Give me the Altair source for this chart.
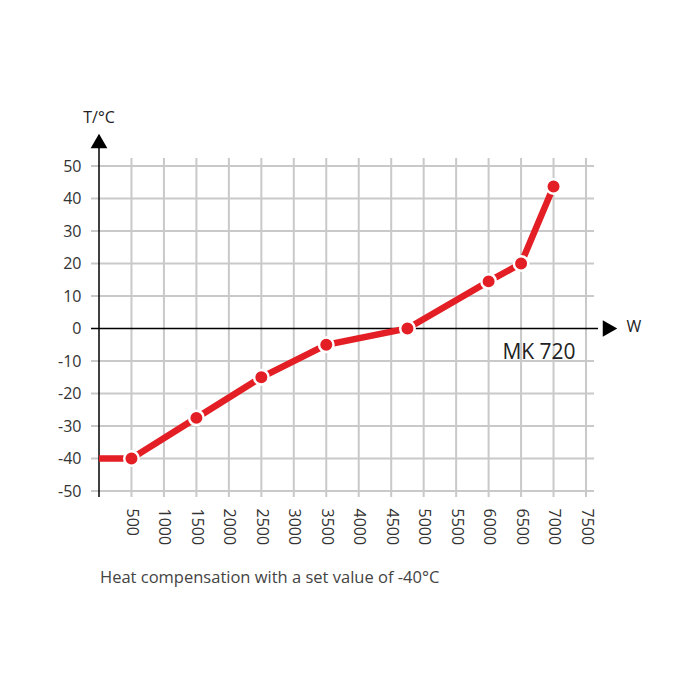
import altair as alt
import pandas as pd

power = [0, 500, 1500, 2500, 3500, 4750, 6000, 6500, 7000]
temp = [-40, -40, -27.5, -15, -5, 0, 14.5, 20, 43.7]
has_marker = [False, True, True, True, True, True, True, True, True]

x_ticks = [500, 1000, 1500, 2000, 2500, 3000, 3500, 4000, 4500, 5000, 5500, 6000, 6500, 7000, 7500]
y_ticks = [-50, -40, -30, -20, -10, 0, 10, 20, 30, 40, 50]
y_grid = [v for v in y_ticks if v != 0]

caption = "Heat compensation with a set value of -40°C"
model = "MK 720"
x_unit = "W"
y_unit = "T/°C"

RED = "#e31e24"
GRID = "#c9c9c9"
FONT = "Open Sans"

W, H = 487, 325

df = pd.DataFrame({"power": power, "temp": temp, "m": has_marker})
xs = alt.Scale(domain=[0, 7500], nice=False, zero=False)
ys = alt.Scale(domain=[-50, 50], nice=False, zero=False)

x_axis = alt.Axis(values=x_ticks, labelAngle=90, labelAlign="left", labelBaseline="middle",
                  labelPadding=17, domain=False, ticks=False, grid=False, title=None,
                  labelFontSize=16, labelColor="#333", labelFont=FONT, labelOverlap=False,
                  labelExpr="'' + datum.value")
y_axis = alt.Axis(values=y_ticks, domain=False, ticks=False, grid=False, title=None,
                  labelPadding=18, labelFontSize=16, labelColor="#333", labelFont=FONT,
                  labelOverlap=False, labelExpr="'' + datum.value")


def X(f):
    return alt.X(f, scale=xs, axis=x_axis)


def Y(f):
    return alt.Y(f, scale=ys, axis=y_axis)


base = alt.Chart(df)

vgrid = alt.Chart(pd.DataFrame({"x": x_ticks})).mark_rule(color=GRID, strokeWidth=2).encode(
    x=X("x:Q"), y=alt.value(-8), y2=alt.value(H + 6))
hgrid = alt.Chart(pd.DataFrame({"y": y_grid})).mark_rule(color=GRID, strokeWidth=2).encode(
    y=Y("y:Q"), x=alt.value(-8), x2=alt.value(W + 8))

zero_line = alt.Chart(pd.DataFrame({"y": [0]})).mark_rule(color="black", strokeWidth=1.5).encode(
    y=Y("y:Q"), x=alt.value(-8), x2=alt.value(W + 12))
y_line = alt.Chart(pd.DataFrame({"x": [0]})).mark_rule(color="black", strokeWidth=1.5).encode(
    x=X("x:Q"), y=alt.value(-20), y2=alt.value(H + 6))

up_arrow = alt.Chart(pd.DataFrame({"x": [0]})).mark_point(
    shape="triangle-up", filled=True, color="black", opacity=1, size=280).encode(
    x=X("x:Q"), y=alt.value(-25))
right_arrow = alt.Chart(pd.DataFrame({"y": [0]})).mark_point(
    shape="triangle-right", filled=True, color="black", opacity=1, size=280).encode(
    y=Y("y:Q"), x=alt.value(W + 24))

line = base.mark_line(color=RED, strokeWidth=6.5).encode(
    x=X("power:Q"), y=Y("temp:Q"))
pts = base.transform_filter("datum.m").mark_point(
    filled=True, color=RED, opacity=1, size=210, stroke="white", strokeWidth=2.5).encode(
    x=X("power:Q"), y=Y("temp:Q"))

txt_common = dict(font=FONT, color="#222")
t_unit = alt.Chart(pd.DataFrame({"t": [y_unit]})).mark_text(
    fontSize=16, align="center", baseline="middle", **txt_common).encode(
    text="t:N", x=alt.value(0), y=alt.value(-48))
w_unit = alt.Chart(pd.DataFrame({"t": [x_unit]})).mark_text(
    fontSize=16, align="center", baseline="middle", **txt_common).encode(
    text="t:N", x=alt.value(W + 48), y=alt.value(161))
mk = alt.Chart(pd.DataFrame({"t": [model], "x": [7340], "y": [-7.6]})).mark_text(
    fontSize=21, align="right", baseline="middle", **txt_common).encode(
    text="t:N", x=X("x:Q"), y=Y("y:Q"))
cap = alt.Chart(pd.DataFrame({"t": [caption]})).mark_text(
    fontSize=16.5, align="left", baseline="middle", font=FONT, color="#444").encode(
    text="t:N", x=alt.value(1), y=alt.value(412))

chart = alt.layer(vgrid, hgrid, zero_line, y_line, up_arrow, right_arrow, line, pts,
                  t_unit, w_unit, mk, cap).properties(
    width=W, height=H, autosize=alt.AutoSizeParams(type="none"),
    padding={"left": 99, "top": 166, "right": 114, "bottom": 209},
    background="white"
).configure_view(stroke=None)

chart.save("out.html", embed_options={"renderer": "svg", "actions": False})
